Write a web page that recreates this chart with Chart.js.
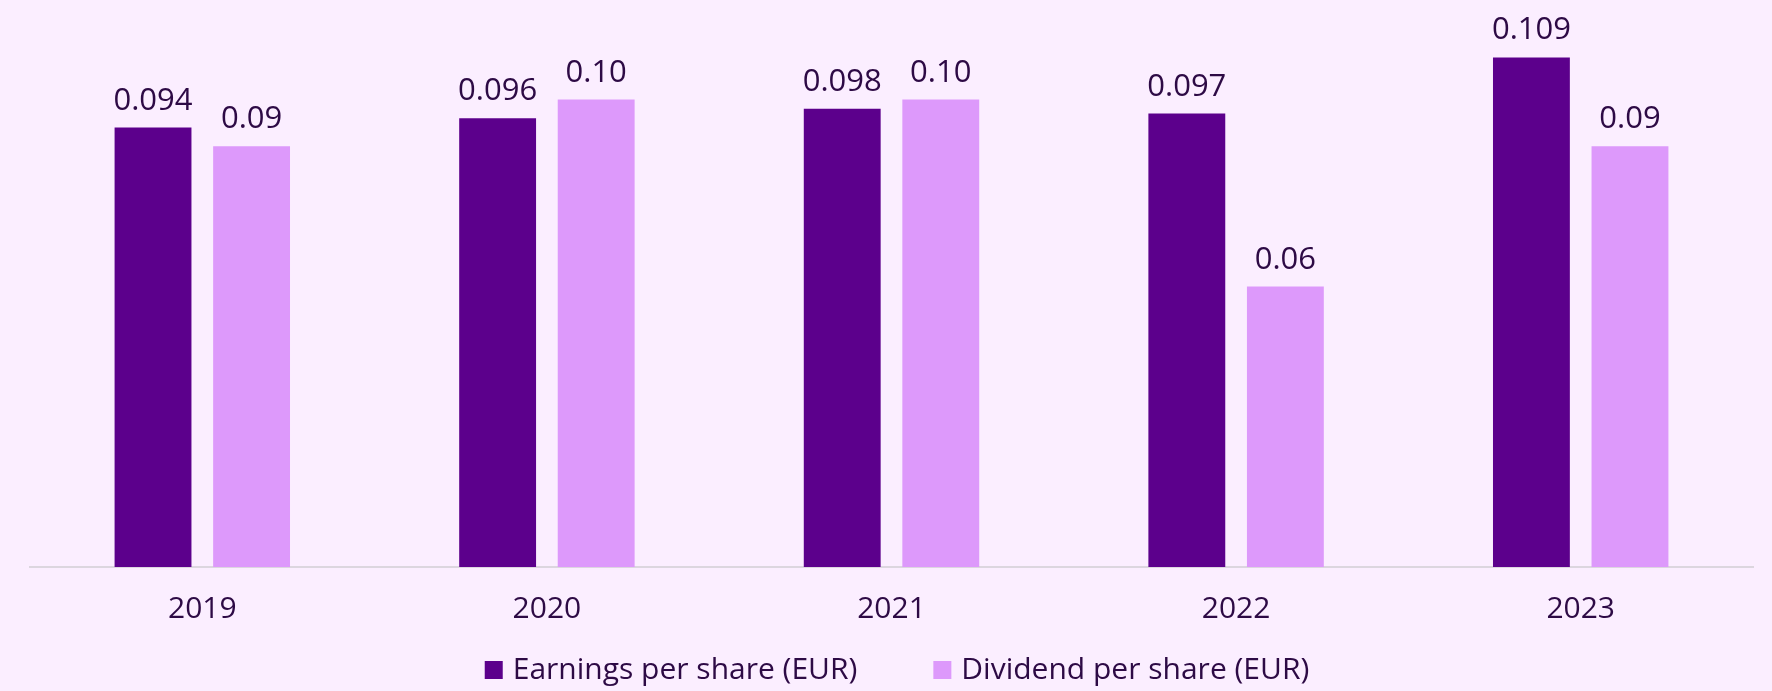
<!DOCTYPE html>
<html>
<head>
<meta charset="utf-8">
<script src="https://cdn.jsdelivr.net/npm/chart.js@4/dist/chart.umd.min.js"></script>
<style>
  html, body { margin: 0; padding: 0; background: #fbeeff; }
  canvas { display: block; }
</style>
</head>
<body>
<canvas id="myChart" width="1772" height="691"></canvas>
<script>
// data
const years = ['2019', '2020', '2021', '2022', '2023'];
const earningsPerShare = [0.094, 0.096, 0.098, 0.097, 0.109];
const dividendPerShare = [0.09, 0.10, 0.10, 0.06, 0.09];
const seriesNames = ['Earnings per share (EUR)', 'Dividend per share (EUR)'];
const labelDecimals = [3, 2];

const fontFamily = '"Open Sans"';
const textColor = '#2d0a45';
const colors = ['#5c008c', '#dd99fb'];

// value over every bar
const valueLabels = {
    id: 'valueLabels',
    afterDatasetsDraw(chart) {
        const ctx = chart.ctx;
        ctx.save();
        ctx.font = '31px ' + fontFamily;
        ctx.fillStyle = textColor;
        ctx.textAlign = 'center';
        ctx.textBaseline = 'alphabetic';
        chart.data.datasets.forEach((ds, i) => {
            chart.getDatasetMeta(i).data.forEach((bar, j) => {
                ctx.fillText(ds.data[j].toFixed(labelDecimals[i]), bar.x, bar.y - 18);
            });
        });
        ctx.restore();
    }
};

// legend drawn by hand, the built-in one can't space items wider than it pads rows
const bottomLegend = {
    id: 'bottomLegend',
    afterDraw(chart) {
        const ctx = chart.ctx;
        const box = 18, gap = 10, itemGap = 76;
        ctx.save();
        ctx.font = '30px ' + fontFamily;
        ctx.textBaseline = 'middle';
        ctx.textAlign = 'left';
        const widths = chart.data.datasets.map(ds => ctx.measureText(ds.label).width);
        let total = widths.reduce((a, w) => a + box + gap + w, 0) + itemGap * (widths.length - 1);
        let x = chart.width / 2 + 11 - total / 2;
        const y = chart.height - 21;
        chart.data.datasets.forEach((ds, i) => {
            ctx.fillStyle = ds.backgroundColor;
            ctx.fillRect(x, y - box / 2, box, box);
            ctx.fillStyle = textColor;
            ctx.fillText(ds.label, x + box + gap, y);
            x += box + gap + widths[i] + itemGap;
        });
        ctx.restore();
    }
};

const ctx = document.getElementById('myChart').getContext('2d');
const myChart = new Chart(ctx, {
    type: 'bar',
    data: {
        labels: years,
        datasets: [{
            label: seriesNames[0],
            data: earningsPerShare,
            backgroundColor: colors[0],
            categoryPercentage: 0.572,
            barPercentage: 0.78
        }, {
            label: seriesNames[1],
            data: dividendPerShare,
            backgroundColor: colors[1],
            categoryPercentage: 0.572,
            barPercentage: 0.78
        }]
    },
    options: {
        responsive: false,
        animation: false,
        layout: { padding: { top: 6, left: 30, right: 19, bottom: 40 } },
        scales: {
            x: {
                grid: { display: false, drawTicks: false },
                border: { display: true, color: '#dcd6df', width: 2 },
                ticks: { color: textColor, font: { family: fontFamily, size: 30 }, padding: 24 }
            },
            y: {
                display: false,
                min: 0,
                max: 0.12
            }
        },
        plugins: {
            legend: { display: false },
            tooltip: { enabled: false }
        }
    },
    plugins: [valueLabels, bottomLegend]
});
</script>
</body>
</html>
